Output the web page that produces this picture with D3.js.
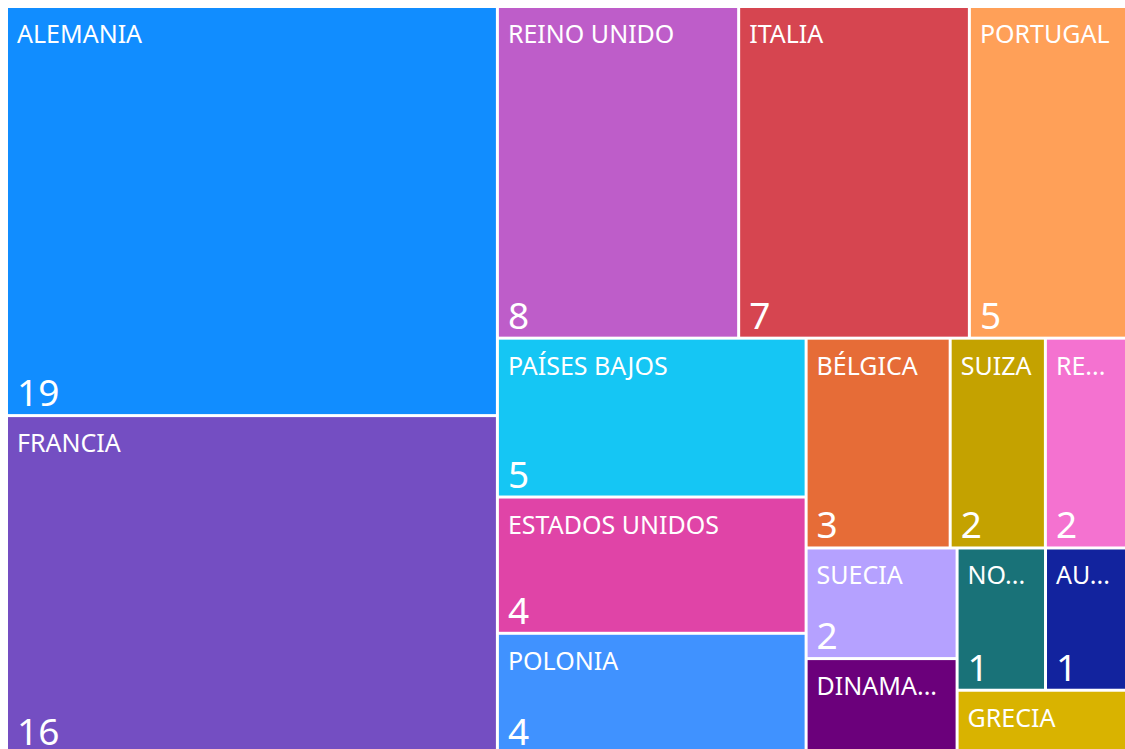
<!DOCTYPE html>
<html>
<head>
<meta charset="utf-8">
<script src="https://cdn.jsdelivr.net/npm/d3@7"></script>
<style>
  html, body { margin: 0; padding: 0; background: #fff; overflow: hidden; }
  svg { display: block; }
  text { font-family: "Segoe UI", "Noto Sans", "Open Sans", sans-serif; fill: #fff; }
</style>
</head>
<body>
<svg id="chart" width="1125" height="749"></svg>
<script>
// data (sizes estimated from the tile areas, shown rounded)
var countries = ["Alemania", "Francia", "Reino Unido", "Italia", "Portugal", "Países Bajos",
                 "Estados Unidos", "Polonia", "Bélgica", "Suiza", "República Checa", "Suecia",
                 "Dinamarca", "Noruega", "Austria", "Grecia"];
var counts = [19, 15.74, 7.57, 7.24, 4.93, 4.64, 3.98, 3.54, 2.86, 1.89, 1.61, 1.58,
              1.37, 1.19, 1.09, 1.03];
var colors = ["#118DFF", "#744EC2", "#BE5DC9", "#D64550", "#FFA058", "#15C6F4",
              "#E044A7", "#4092FF", "#E66C37", "#C4A200", "#F472D0", "#B5A1FF",
              "#6B007B", "#197278", "#12239E", "#D9B300"];

var svg = d3.select("#chart");
var x0 = 8, y0 = 8, W = 1117, H = 745;
var fmt = d3.format(".0f");

var root = d3.hierarchy({
    children: countries.map(function(c, i) { return { name: c, value: counts[i], color: colors[i] }; })
  })
  .sum(function(d) { return d.value || 0; })
  .sort(function(a, b) { return b.value - a.value; });

d3.treemap()
  .tile(d3.treemapSquarify)
  .size([W, H])
  .paddingInner(3)(root);

var g = svg.append("g").attr("transform", "translate(" + x0 + "," + y0 + ")");

var cell = g.selectAll("g.cell")
  .data(root.leaves())
  .enter().append("g")
  .attr("class", "cell")
  .attr("transform", function(d) { return "translate(" + d.x0 + "," + d.y0 + ")"; });

cell.append("rect")
  .attr("width", function(d) { return d.x1 - d.x0; })
  .attr("height", function(d) { return d.y1 - d.y0; })
  .style("fill", function(d) { return d.data.color; });

// fit label into the box width with an ellipsis
function fitText(sel, str, maxW) {
  sel.text(str);
  if (sel.node().getComputedTextLength() <= maxW) return;
  for (var n = str.length - 1; n > 0; n--) {
    sel.text(str.slice(0, n) + "...");
    if (sel.node().getComputedTextLength() <= maxW) return;
  }
}

cell.each(function(d) {
  var c = d3.select(this);
  var w = d.x1 - d.x0, h = d.y1 - d.y0;
  var lab = c.append("text")
    .attr("x", 9)
    .attr("y", 35)
    .style("font-size", "25px");
  fitText(lab, d.data.name.toUpperCase(), w - 18);

  if (h >= 100) {
    c.append("text")
      .attr("x", 9)
      .attr("y", h - 8)
      .style("font-size", "37px")
      .text(fmt(d.data.value));
  }
});
</script>
</body>
</html>
